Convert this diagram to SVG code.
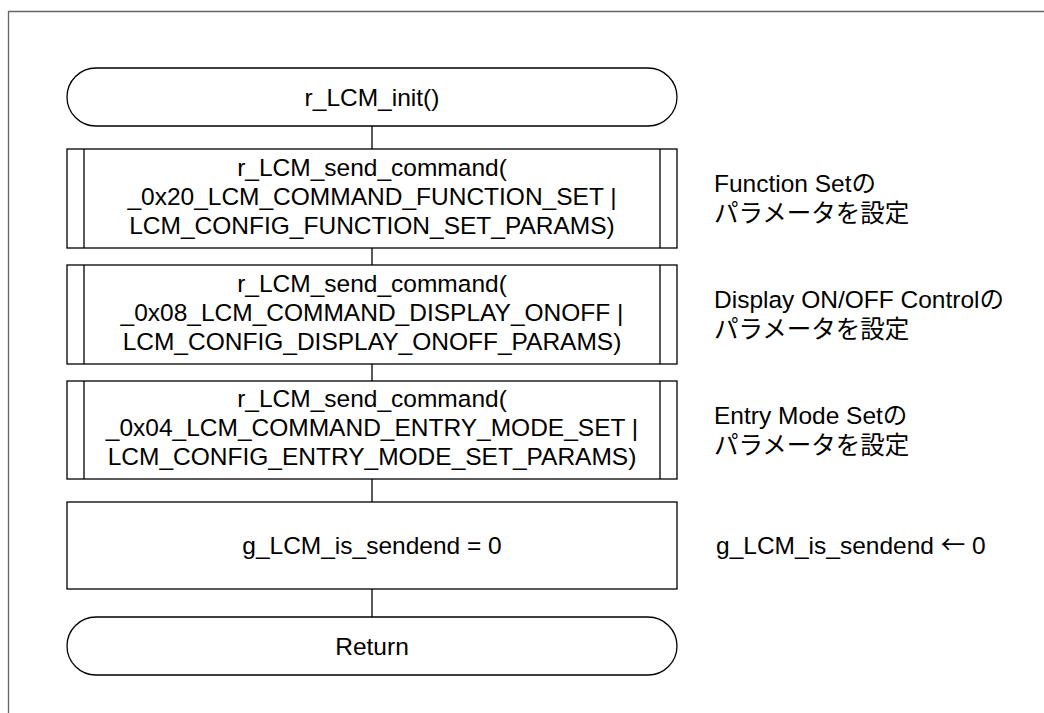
<svg xmlns="http://www.w3.org/2000/svg" width="1044" height="713" viewBox="0 0 1044 713">
<style>
.shape{fill:#fff;stroke:#000;stroke-width:1.3}
.line{fill:none;stroke:#000;stroke-width:1.3}
.frame{fill:none;stroke:#666;stroke-width:1.3}
text{font-family:"Liberation Sans","Noto Sans CJK JP",Arial,sans-serif;font-size:24.5px;fill:#000}
.c{text-anchor:middle}
.arr{font-family:"Noto Sans CJK JP",sans-serif}
</style>
<rect width="1044" height="713" fill="#fff"/>
<path class="frame" d="M8.5,713 V11.5 H1044"/>
<g id="connectors">
<line class="line" x1="372" y1="126" x2="372" y2="149"/>
<line class="line" x1="372" y1="248" x2="372" y2="265"/>
<line class="line" x1="372" y1="364" x2="372" y2="381"/>
<line class="line" x1="372" y1="479" x2="372" y2="502"/>
<line class="line" x1="372" y1="589" x2="372" y2="617"/>
</g>
<g id="start">
<rect class="shape" x="67" y="68" width="610" height="58" rx="29" ry="29"/>
<text class="c" x="372" y="106">r_LCM_init()</text>
</g>
<g id="cmd1">
<rect class="shape" x="67" y="149" width="610" height="99"/>
<line class="line" x1="84" y1="149" x2="84" y2="248"/>
<line class="line" x1="660" y1="149" x2="660" y2="248"/>
<text class="c" x="372" y="176">r_LCM_send_command(</text>
<text class="c" x="372" y="205">_0x20_LCM_COMMAND_FUNCTION_SET |</text>
<text class="c" x="372" y="234">LCM_CONFIG_FUNCTION_SET_PARAMS)</text>
</g>
<g id="cmd2">
<rect class="shape" x="67" y="265" width="610" height="99"/>
<line class="line" x1="84" y1="265" x2="84" y2="364"/>
<line class="line" x1="660" y1="265" x2="660" y2="364"/>
<text class="c" x="372" y="292">r_LCM_send_command(</text>
<text class="c" x="372" y="321">_0x08_LCM_COMMAND_DISPLAY_ONOFF |</text>
<text class="c" x="372" y="350">LCM_CONFIG_DISPLAY_ONOFF_PARAMS)</text>
</g>
<g id="cmd3">
<rect class="shape" x="67" y="381" width="610" height="98"/>
<line class="line" x1="84" y1="381" x2="84" y2="479"/>
<line class="line" x1="660" y1="381" x2="660" y2="479"/>
<text class="c" x="372" y="407">r_LCM_send_command(</text>
<text class="c" x="372" y="436">_0x04_LCM_COMMAND_ENTRY_MODE_SET |</text>
<text class="c" x="372" y="465">LCM_CONFIG_ENTRY_MODE_SET_PARAMS)</text>
</g>
<g id="assign">
<rect class="shape" x="67" y="502" width="610" height="87"/>
<text class="c" x="372" y="554">g_LCM_is_sendend = 0</text>
</g>
<g id="end">
<rect class="shape" x="67" y="617" width="610" height="58" rx="29" ry="29"/>
<text class="c" x="372" y="655">Return</text>
</g>
<g id="notes">
<text x="714" y="192">Function Setの</text>
<text x="714" y="222">パラメータを設定</text>
<text x="714" y="308">Display ON/OFF Controlの</text>
<text x="714" y="338">パラメータを設定</text>
<text x="714" y="424">Entry Mode Setの</text>
<text x="714" y="454">パラメータを設定</text>
<text x="716" y="554">g_LCM_is_sendend <tspan class="arr">←</tspan> 0</text>
</g>
</svg>
